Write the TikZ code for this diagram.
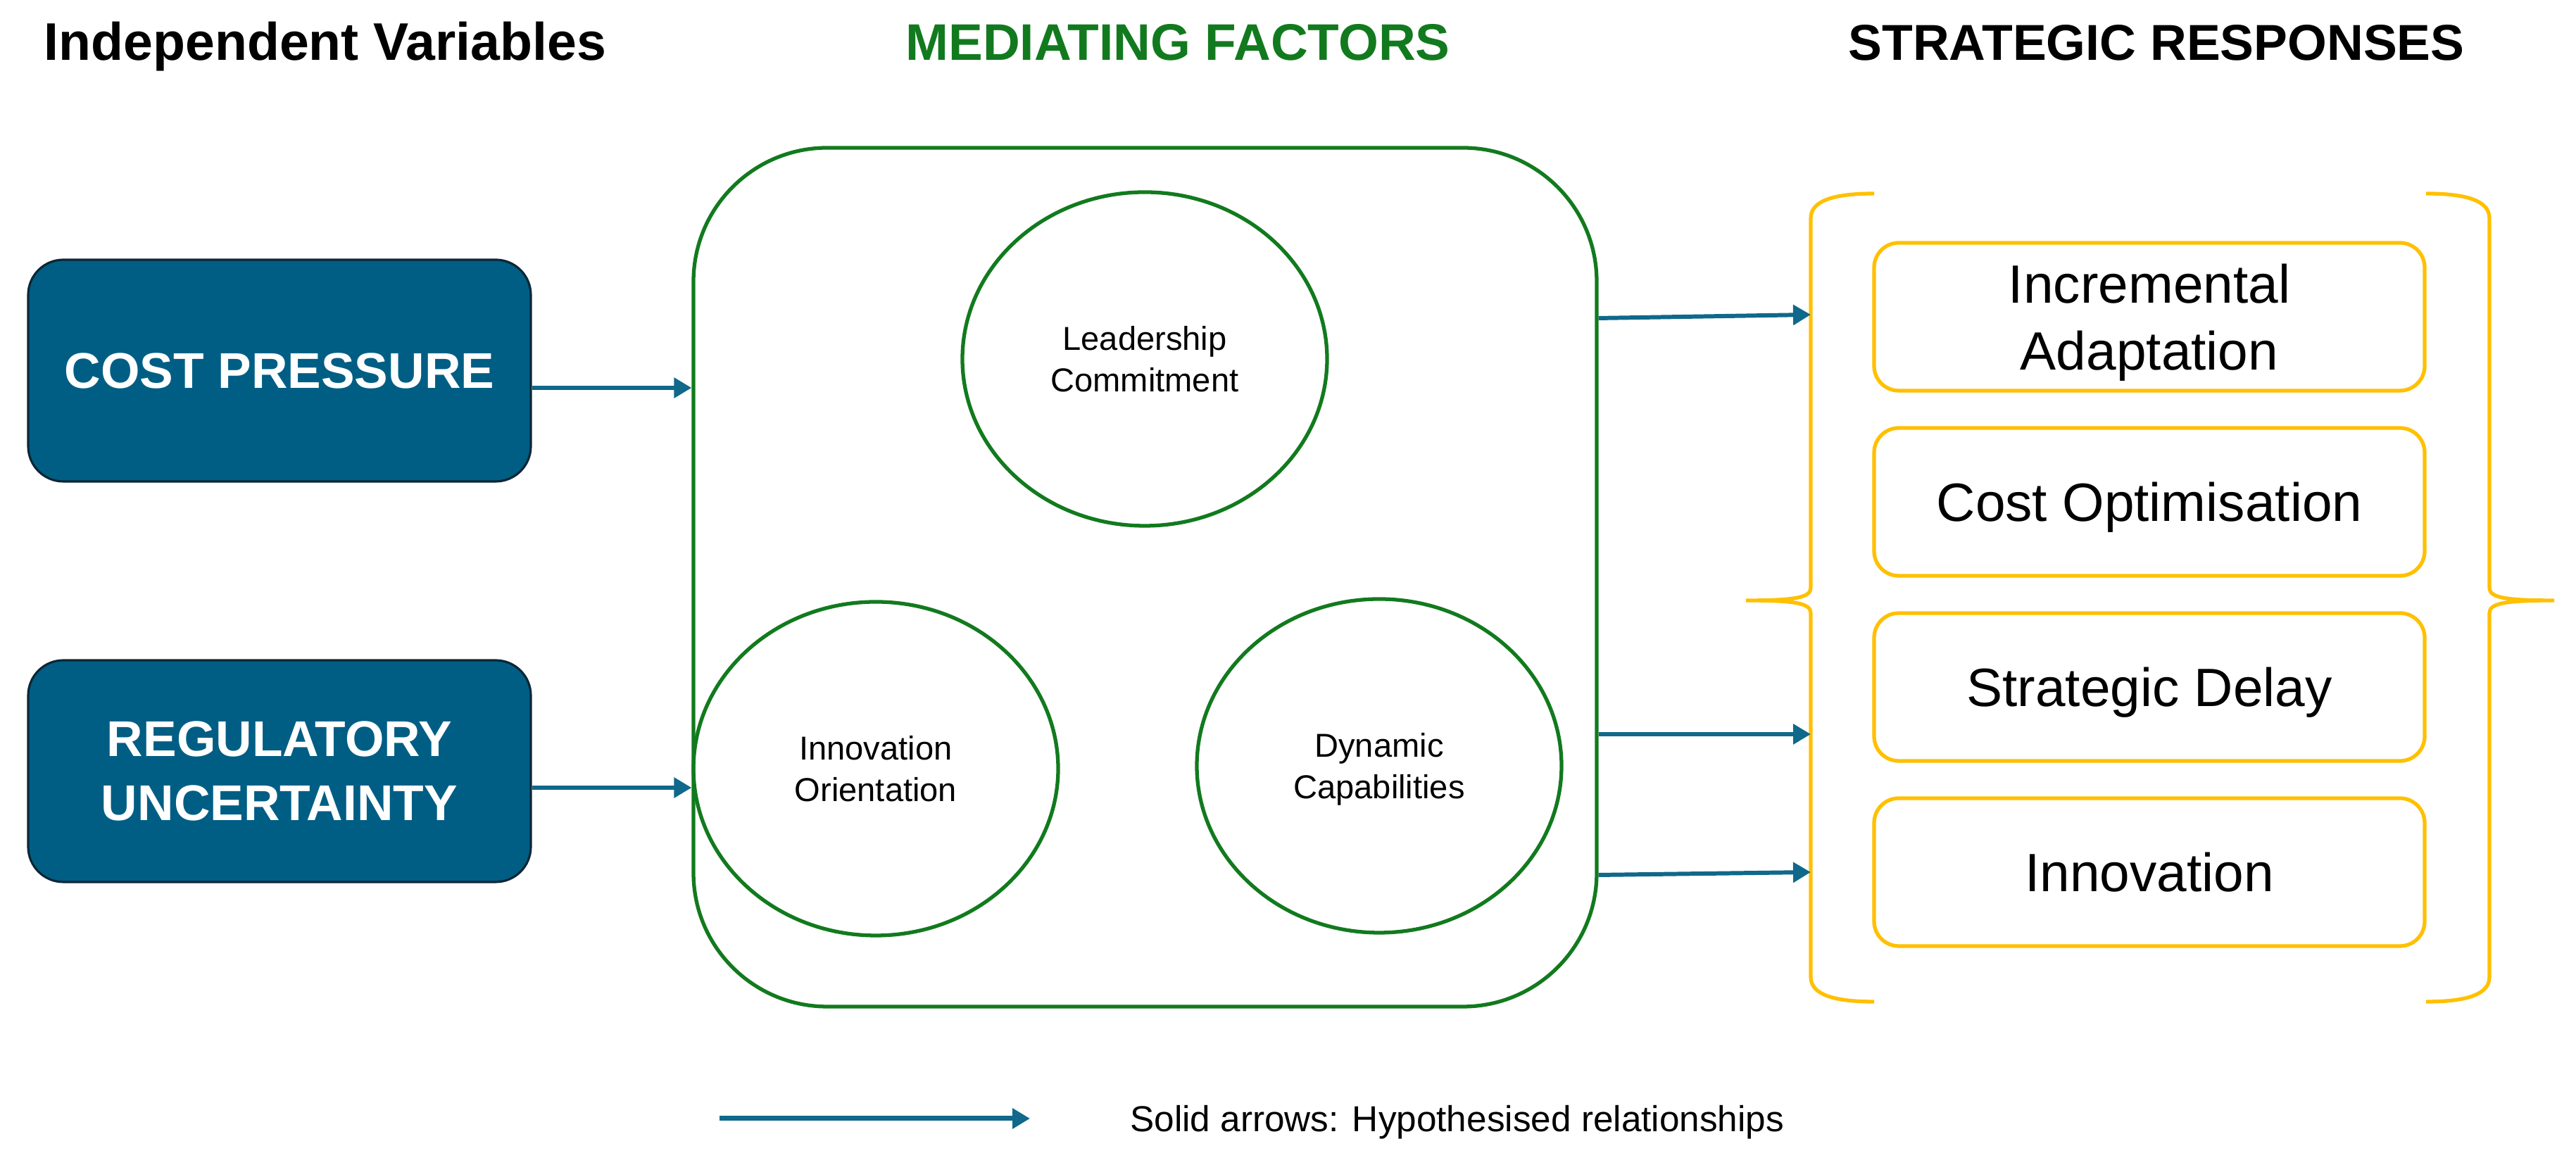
\documentclass[tikz,border=0pt]{standalone}
\usepackage{fontspec}
\setmainfont{Liberation Sans}
\usetikzlibrary{arrows.meta,shapes.geometric}
\definecolor{ivblue}{RGB}{0,94,132}
\definecolor{ivedge}{RGB}{12,38,54}
\definecolor{arrowteal}{RGB}{16,104,138}
\definecolor{medgreen}{RGB}{18,122,30}
\definecolor{respgold}{RGB}{255,192,0}
\begin{document}
\begin{tikzpicture}[
  >={Triangle[length=0.25cm,width=0.28cm]},
  title/.style={anchor=base,font=\fontsize{20.8}{25}\selectfont\bfseries},
  ivbox/.style={draw=ivedge,line width=0.9pt,fill=ivblue,rounded corners=0.5cm,minimum width=7.14cm,minimum height=3.15cm,text=white,align=center,font=\fontsize{20.3}{26}\selectfont\bfseries},
  medcirc/.style={draw=medgreen,line width=1.5pt,ellipse,minimum width=5.18cm,minimum height=4.74cm,inner sep=0pt,align=center,text depth=0pt,font=\fontsize{13.4}{16.6}\selectfont},
  respbox/.style={draw=respgold,line width=1.5pt,rounded corners=0.35cm,minimum width=7.82cm,minimum height=2.1cm,align=center,text depth=0pt,font=\fontsize{21.8}{27}\selectfont},
  brace/.style={draw=respgold,line width=1.5pt},
  hyp/.style={->,draw=arrowteal,line width=1.7pt}
]
\useasboundingbox (0,0) rectangle (36.59,16.55);
\node[title,font=\fontsize{21.4}{25}\selectfont\bfseries] (ivtitle) at (4.62,15.69) {Independent Variables};
\node[title,text=medgreen] (medtitle) at (16.73,15.69) {MEDIATING FACTORS};
\node[title,font=\fontsize{20.4}{25}\selectfont\bfseries] (resptitle) at (30.63,15.69) {STRATEGIC RESPONSES};
\node[ivbox] (cost) at (3.97,11.285) {COST PRESSURE};
\node[ivbox] (reg) at (3.97,5.595) {REGULATORY\\UNCERTAINTY};
\node[draw=medgreen,line width=1.5pt,rounded corners=1.9cm,minimum width=12.83cm,minimum height=12.2cm] (medbox) at (16.265,8.35) {};
\node[medcirc] (lead) at (16.26,11.45) {Leadership\\Commitment};
\node[medcirc] (innov) at (12.44,5.63) {Innovation\\Orientation};
\node[medcirc] (dyn) at (19.59,5.67) {Dynamic\\Capabilities};
\node[respbox] (incr) at (30.53,12.05) {Incremental\\Adaptation};
\node[respbox] (costopt) at (30.53,9.42) {Cost Optimisation};
\node[respbox] (delay) at (30.53,6.79) {Strategic Delay};
\node[respbox] (innovr) at (30.53,4.16) {Innovation};
\coordinate (bracel) at (25.72,8.02);
\draw[brace] (26.62,13.80) .. controls (26.05,13.80) and (25.72,13.70) .. (25.72,13.45) -- (25.72,8.20) .. controls (25.72,8.06) and (25.50,8.02) .. (24.80,8.02) .. controls (25.50,8.02) and (25.72,7.98) .. (25.72,7.84) -- (25.72,2.67) .. controls (25.72,2.42) and (26.05,2.32) .. (26.62,2.32);
\draw[brace] (34.46,13.80) .. controls (35.03,13.80) and (35.36,13.70) .. (35.36,13.45) -- (35.36,8.20) .. controls (35.36,8.06) and (35.58,8.02) .. (36.28,8.02) .. controls (35.58,8.02) and (35.36,7.98) .. (35.36,7.84) -- (35.36,2.67) .. controls (35.36,2.42) and (35.03,2.32) .. (34.46,2.32);
\draw[hyp] ([yshift=-0.245cm]cost.east) -- ([yshift=-0.245cm]cost.east -| medbox.west);
\draw[hyp] ([yshift=-0.235cm]reg.east) -- ([yshift=-0.235cm]reg.east -| medbox.west);
\draw[hyp] (medbox.east |- 0,12.03) -- (bracel |- 0,12.08);
\draw[hyp] (medbox.east |- 0,6.12) -- (bracel |- 0,6.12);
\draw[hyp] (medbox.east |- 0,4.12) -- (bracel |- 0,4.16);
\coordinate (keystart) at (10.22,0.66);
\coordinate (keyend) at (14.63,0.66);
\draw[hyp,line width=2pt] (keystart) -- (keyend);
\node[anchor=west,text depth=0pt,font=\fontsize{14.6}{17}\selectfont] (keytext) at (15.93,0.66) {Solid arrows: Hypothesised relationships};
\end{tikzpicture}
\end{document}
